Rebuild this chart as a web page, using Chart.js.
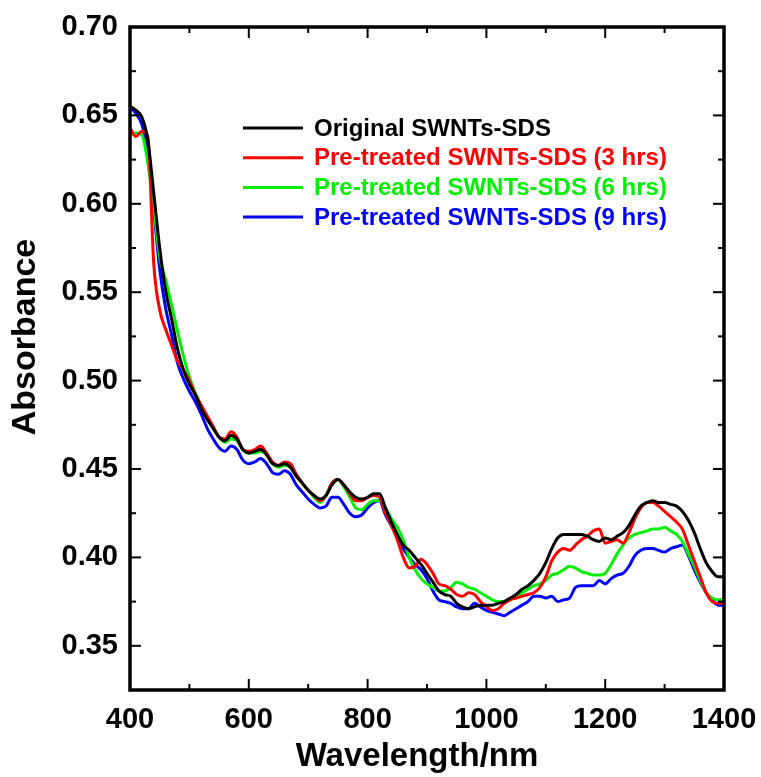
<!DOCTYPE html>
<html>
<head>
<meta charset="utf-8">
<script src="https://cdn.jsdelivr.net/npm/chart.js@4/dist/chart.umd.min.js"></script>
<style>
  html, body { margin: 0; padding: 0; background: #fff; }
</style>
</head>
<body>
<canvas id="canvas" width="761" height="777"></canvas>
<script>
// wavelength grid, nm
var wl = [];
for (var w = 400; w <= 1400; w += 10) wl.push(w);

var seriesNames = [
  'Original SWNTs-SDS',
  'Pre-treated SWNTs-SDS (3 hrs)',
  'Pre-treated SWNTs-SDS (6 hrs)',
  'Pre-treated SWNTs-SDS (9 hrs)'
];
var seriesColors = ['#000000', '#ff0000', '#00ee00', '#0000ff'];

var original = [
  0.655, 0.653, 0.649, 0.636, 0.606, 0.575, 0.551, 0.535, 0.518, 0.506,
  0.498, 0.492, 0.484, 0.478, 0.473, 0.468, 0.466, 0.469, 0.467, 0.461,
  0.459, 0.460, 0.461, 0.458, 0.453, 0.452, 0.453, 0.451, 0.446, 0.442,
  0.438, 0.435, 0.433, 0.435, 0.441, 0.444, 0.441, 0.437, 0.434, 0.433,
  0.434, 0.436, 0.436, 0.428, 0.420, 0.413, 0.407, 0.404, 0.400, 0.396,
  0.391, 0.386, 0.381, 0.379, 0.378, 0.374, 0.372, 0.371, 0.372, 0.373,
  0.373, 0.373, 0.374, 0.375, 0.377, 0.379, 0.382, 0.384, 0.387, 0.391,
  0.397, 0.405, 0.411, 0.413, 0.413, 0.413, 0.413, 0.412, 0.410, 0.409,
  0.411, 0.410, 0.412, 0.414, 0.418, 0.424, 0.429, 0.431, 0.432, 0.431,
  0.431, 0.430, 0.429, 0.426, 0.421, 0.414, 0.405, 0.397, 0.392, 0.389,
  0.389
];
var treated3 = [
  0.643, 0.638, 0.641, 0.638, 0.566, 0.540, 0.529, 0.520, 0.511, 0.506,
  0.500, 0.492, 0.486, 0.480, 0.474, 0.468, 0.467, 0.471, 0.468, 0.461,
  0.460, 0.461, 0.463, 0.459, 0.454, 0.452, 0.454, 0.453, 0.447, 0.442,
  0.438, 0.435, 0.432, 0.435, 0.442, 0.444, 0.441, 0.436, 0.432, 0.432,
  0.434, 0.435, 0.434, 0.425, 0.418, 0.410, 0.400, 0.394, 0.395, 0.399,
  0.396, 0.391, 0.385, 0.384, 0.382, 0.379, 0.378, 0.380, 0.379, 0.375,
  0.372, 0.370, 0.371, 0.374, 0.376, 0.377, 0.378, 0.379, 0.380, 0.383,
  0.389, 0.398, 0.403, 0.405, 0.404, 0.407, 0.410, 0.412, 0.415, 0.416,
  0.408, 0.409, 0.410, 0.408, 0.414, 0.422, 0.428, 0.431, 0.431, 0.429,
  0.426, 0.423, 0.420, 0.416, 0.407, 0.398, 0.389, 0.380, 0.375, 0.374,
  0.374
];
var treated6 = [
  0.639, 0.640, 0.639, 0.623, 0.598, 0.570, 0.557, 0.543, 0.528, 0.514,
  0.502, 0.493, 0.486, 0.479, 0.473, 0.468, 0.465, 0.467, 0.466, 0.461,
  0.459, 0.459, 0.460, 0.458, 0.453, 0.451, 0.452, 0.451, 0.446, 0.442,
  0.438, 0.434, 0.431, 0.435, 0.442, 0.444, 0.440, 0.434, 0.428, 0.427,
  0.430, 0.432, 0.432, 0.428, 0.422, 0.417, 0.410, 0.400, 0.393, 0.388,
  0.385, 0.383, 0.381, 0.381, 0.383, 0.386, 0.385, 0.383, 0.382, 0.380,
  0.378, 0.376, 0.375, 0.375, 0.376, 0.378, 0.380, 0.382, 0.384, 0.385,
  0.387, 0.390, 0.391, 0.393, 0.395, 0.394, 0.392, 0.391, 0.390, 0.390,
  0.391, 0.396, 0.402, 0.407, 0.411, 0.413, 0.414, 0.415, 0.416, 0.416,
  0.417, 0.415, 0.413, 0.409, 0.402, 0.395, 0.387, 0.380, 0.377, 0.376,
  0.376
];
var treated9 = [
  0.655, 0.651, 0.645, 0.630, 0.597, 0.563, 0.541, 0.526, 0.510, 0.501,
  0.494, 0.488, 0.481, 0.473, 0.467, 0.462, 0.460, 0.463, 0.461, 0.455,
  0.453, 0.454, 0.456, 0.453, 0.448, 0.447, 0.449, 0.447, 0.441, 0.437,
  0.433, 0.430, 0.428, 0.429, 0.434, 0.434, 0.430, 0.425, 0.423, 0.424,
  0.428, 0.431, 0.432, 0.424, 0.418, 0.412, 0.405, 0.400, 0.396, 0.393,
  0.388, 0.381, 0.376, 0.375, 0.374, 0.372, 0.371, 0.371, 0.374, 0.372,
  0.370, 0.369, 0.368, 0.367, 0.369, 0.371, 0.373, 0.375, 0.378, 0.378,
  0.377, 0.378, 0.375, 0.376, 0.377, 0.383, 0.384, 0.384, 0.384, 0.387,
  0.385, 0.388, 0.390, 0.391, 0.395, 0.401, 0.404, 0.405, 0.405, 0.404,
  0.403, 0.405, 0.406, 0.407, 0.401, 0.393, 0.386, 0.380, 0.376, 0.373,
  0.373
];

var xTickVals = [400, 600, 800, 1000, 1200, 1400];
var xMinorVals = [500, 700, 900, 1100, 1300];
var yTickVals = [0.35, 0.40, 0.45, 0.50, 0.55, 0.60, 0.65, 0.70];
var yMinorVals = [0.325, 0.375, 0.425, 0.475, 0.525, 0.575, 0.625, 0.675];

var xTitle = 'Wavelength/nm';
var yTitle = 'Absorbance';

var allSeries = [original, treated3, treated6, treated9];

var datasets = allSeries.map(function (vals, i) {
  return {
    label: seriesNames[i],
    data: vals.map(function (v, j) { return { x: wl[j], y: v } }),
    borderColor: seriesColors[i],
    borderWidth: 3,
    pointRadius: 0,
    fill: false,
    cubicInterpolationMode: 'monotone'
  }
});

var font = '"Liberation Sans", Arial, sans-serif';

// frame with inward ticks on all four sides
var framePlugin = {
  id: 'frame',
  afterDatasetsDraw: function (chart) {
    var ctx = chart.ctx, a = chart.chartArea;
    var xs = chart.scales.x, ys = chart.scales.y;
    ctx.save();
    ctx.strokeStyle = '#000';
    ctx.lineWidth = 2;
    function tick(x1, y1, x2, y2) {
      ctx.beginPath(); ctx.moveTo(x1, y1); ctx.lineTo(x2, y2); ctx.stroke();
    }
    xTickVals.forEach(function (v) {
      var p = xs.getPixelForValue(v);
      tick(p, a.bottom, p, a.bottom - 11);
      tick(p, a.top, p, a.top + 11);
    });
    xMinorVals.forEach(function (v) {
      var p = xs.getPixelForValue(v);
      tick(p, a.bottom, p, a.bottom - 6);
      tick(p, a.top, p, a.top + 6);
    });
    yTickVals.forEach(function (v) {
      var p = ys.getPixelForValue(v);
      tick(a.left, p, a.left + 11, p);
      tick(a.right, p, a.right - 11, p);
    });
    yMinorVals.forEach(function (v) {
      var p = ys.getPixelForValue(v);
      tick(a.left, p, a.left + 6, p);
      tick(a.right, p, a.right - 6, p);
    });
    ctx.lineWidth = 3.5;
    ctx.strokeRect(a.left, a.top, a.right - a.left, a.bottom - a.top);
    ctx.restore();
  }
};

// axis titles sit a little left / above the plot centre in the original
var titlePlugin = {
  id: 'titles',
  afterDraw: function (chart) {
    var ctx = chart.ctx;
    ctx.save();
    ctx.fillStyle = '#000';
    ctx.textAlign = 'center';
    ctx.textBaseline = 'middle';
    ctx.font = 'bold 33px ' + font;
    ctx.fillText(xTitle, 417, 757);
    ctx.translate(26, 337);
    ctx.rotate(-Math.PI / 2);
    ctx.font = 'bold 34px ' + font;
    ctx.fillText(yTitle, 0, 0);
    ctx.restore();
  }
};

var legendPlugin = {
  id: 'inlegend',
  afterDraw: function (chart) {
    var ctx = chart.ctx;
    ctx.save();
    ctx.font = 'bold 24px ' + font;
    ctx.textBaseline = 'middle';
    chart.data.datasets.forEach(function (ds, i) {
      var y = 128 + i * 29.7;
      ctx.strokeStyle = ds.borderColor;
      ctx.lineWidth = 3;
      ctx.beginPath(); ctx.moveTo(243, y); ctx.lineTo(303, y); ctx.stroke();
      ctx.fillStyle = ds.borderColor;
      ctx.fillText(ds.label, 314, y + 1);
    });
    ctx.restore();
  }
};

new Chart(document.getElementById('canvas').getContext('2d'), {
  type: 'line',
  data: { datasets: datasets },
  options: {
    responsive: false,
    animation: false,
    devicePixelRatio: 1,
    layout: { padding: { left: 0, top: 27, right: 37, bottom: 0 } },
    plugins: { legend: { display: false }, tooltip: { enabled: false } },
    scales: {
      x: {
        type: 'linear',
        min: 400, max: 1400,
        grid: { display: false, drawTicks: false },
        border: { display: false },
        afterBuildTicks: function (s) { s.ticks = xTickVals.map(function (v) { return { value: v } }) },
        afterFit: function (s) { s.height = 87; s.paddingLeft = 0; s.paddingRight = 0 },
        ticks: { color: '#000', padding: 13, maxRotation: 0,
          callback: function (v) { return String(v) },
          font: { family: font, size: 29, weight: 'bold' } }
      },
      y: {
        min: 0.325, max: 0.70,
        grid: { display: false, drawTicks: false },
        border: { display: false },
        afterBuildTicks: function (s) { s.ticks = yTickVals.map(function (v) { return { value: v } }) },
        afterFit: function (s) { s.width = 130; s.paddingTop = 0; s.paddingBottom = 0 },
        ticks: { color: '#000', padding: 12,
          callback: function (v) { return v.toFixed(2) },
          font: { family: font, size: 29, weight: 'bold' } }
      }
    }
  },
  plugins: [framePlugin, titlePlugin, legendPlugin]
});
</script>
</body>
</html>
